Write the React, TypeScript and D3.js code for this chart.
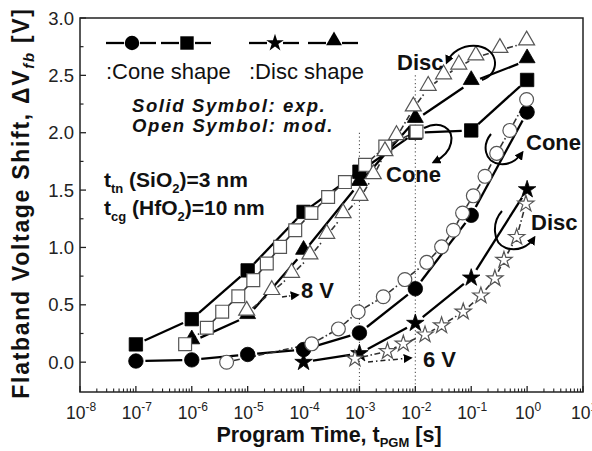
import React from 'react';
import * as d3 from 'd3';

const W = 592, H = 451;
const X_DOMAIN: [number, number] = [1e-8, 1e1];
const Y_DOMAIN: [number, number] = [-0.26, 3.0];
const X_EXPONENTS = [-8, -7, -6, -5, -4, -3, -2, -1, 0, 1];
const Y_TICKS = [0, 0.5, 1, 1.5, 2, 2.5, 3];
const Y_TICK_LABELS = ['0.0', '0.5', '1.0', '1.5', '2.0', '2.5', '3.0'];
const Y_MINOR = [0.25, 0.75, 1.25, 1.75, 2.25, 2.75];

// Experimental (solid symbols)
const CONE_6V_EXP_T = [1e-7, 1e-6, 1e-5, 1e-4, 1e-3, 1e-2, 1e-1, 1];
const CONE_6V_EXP_V = [0.01, 0.02, 0.067, 0.11, 0.255, 0.64, 1.28, 2.18];
const CONE_8V_EXP_T = [1e-7, 1e-6, 1e-5, 1e-4, 1e-3, 1e-2, 1e-1, 1];
const CONE_8V_EXP_V = [0.155, 0.375, 0.8, 1.31, 1.66, 2.0, 2.02, 2.46];
const DISC_6V_EXP_T = [1e-4, 1e-3, 1e-2, 1e-1, 1];
const DISC_6V_EXP_V = [0.0, 0.076, 0.34, 0.735, 1.505];
const DISC_8V_EXP_T = [1e-6, 1e-5, 1e-4, 1e-3, 1e-2, 1e-1, 1];
const DISC_8V_EXP_V = [0.18, 0.4, 0.96, 1.56, 2.11, 2.44, 2.63];

// Model (open symbols)
const CONE_8V_MOD_T = [7.6e-7, 1.86e-6, 3.5e-6, 6.8e-6, 1.26e-5, 2.2e-5, 3.8e-5, 7.1e-5, 1.38e-4, 2.75e-4, 5.5e-4, 1.26e-3, 2.9e-3, 1.05e-2];
const CONE_8V_MOD_V = [0.157, 0.3, 0.44, 0.575, 0.715, 0.86, 1.005, 1.15, 1.3, 1.44, 1.57, 1.72, 1.88, 2.01];
const DISC_8V_MOD_T = [9.6e-6, 2.7e-5, 6.1e-5, 1.3e-4, 2.6e-4, 5.1e-4, 1.02e-3, 1.77e-3, 2.86e-3, 4.6e-3, 9.2e-3, 1.7e-2, 3.2e-2, 6.0e-2, 0.121, 0.326, 0.98];
const DISC_8V_MOD_V = [0.43, 0.61, 0.76, 0.92, 1.1, 1.28, 1.43, 1.62, 1.82, 1.96, 2.21, 2.39, 2.49, 2.575, 2.655, 2.72, 2.785];
const CONE_6V_MOD_T = [4.2e-6, 1.4e-4, 4.2e-4, 9.5e-4, 2.67e-3, 6.5e-3, 1.6e-2, 2.95e-2, 4.8e-2, 7.0e-2, 0.109, 0.176, 0.285, 0.49, 0.98];
const CONE_6V_MOD_V = [0.0, 0.16, 0.29, 0.44, 0.57, 0.72, 0.87, 1.005, 1.15, 1.3, 1.45, 1.62, 1.82, 2.02, 2.29];
const DISC_6V_MOD_T = [8.3e-4, 3.17e-3, 6.1e-3, 1.49e-2, 2.95e-2, 7.2e-2, 0.149, 0.265, 0.385, 0.65, 0.95];
const DISC_6V_MOD_V = [0.03, 0.095, 0.16, 0.24, 0.32, 0.44, 0.58, 0.73, 0.89, 1.09, 1.38];

const DOTTED_T = [1e-3, 1e-2];
const DOTTED_TOP_V = [2.0, 2.5];

const FONT = "'Liberation Sans', Arial, Helvetica, sans-serif";

const x = d3.scaleLog().domain(X_DOMAIN).range([80, 583]);
const y = d3.scaleLinear().domain(Y_DOMAIN).range([392, 18]);

type Shape = 'circle' | 'square' | 'triangle' | 'star';
const symType: Record<Shape, d3.SymbolType> = {
  circle: d3.symbolCircle,
  square: d3.symbolSquare,
  triangle: d3.symbolTriangle,
  star: d3.symbolStar,
};
const solidSize: Record<Shape, number> = { circle: 165, square: 180, triangle: 110, star: 95 };
const openSize: Record<Shape, number> = { circle: 150, square: 165, triangle: 110, star: 82 };
const triOffset = (s: Shape, size: number) => (s === 'triangle' ? -Math.sqrt(size / (Math.sqrt(3) * 3)) / 2 : 0);

function gapped(pts: [number, number][], gap: number) {
  const segs: [number, number, number, number][] = [];
  for (let i = 0; i < pts.length - 1; i++) {
    const [x1, y1] = pts[i];
    const [x2, y2] = pts[i + 1];
    const dx = x2 - x1, dy = y2 - y1;
    const L = Math.hypot(dx, dy);
    if (L <= 2 * gap + 1) continue;
    const ux = dx / L, uy = dy / L;
    segs.push([x1 + ux * gap, y1 + uy * gap, x2 - ux * gap, y2 - uy * gap]);
  }
  return segs;
}

function Lines({ ts, vs, open, gap }: { ts: number[]; vs: number[]; open: boolean; gap: number }) {
  const pts: [number, number][] = ts.map((t, i) => [x(t), y(vs[i])]);
  const segs = gapped(pts, gap);
  return (
    <g>
      {segs.map((s, i) => (
        <line key={i} x1={s[0]} y1={s[1]} x2={s[2]} y2={s[3]}
          stroke={open ? '#333' : '#000'} strokeWidth={open ? 1.6 : 2.3}
          strokeDasharray={open ? '6 2.5 1.5 2.5' : undefined} />
      ))}
    </g>
  );
}

function Markers({ ts, vs, shape, open }: { ts: number[]; vs: number[]; shape: Shape; open: boolean }) {
  const pts: [number, number][] = ts.map((t, i) => [x(t), y(vs[i])]);
  const size = open ? openSize[shape] : solidSize[shape];
  const path = d3.symbol(symType[shape], size)() as string;
  const off = triOffset(shape, size);
  return (
    <g>
      {pts.map((p, i) => (
        <path key={i} d={path} transform={`translate(${p[0]},${p[1] + off})`}
          fill={open ? '#fff' : '#000'} stroke={open ? '#555' : '#000'} strokeWidth={open ? 1.2 : 0.8} />
      ))}
    </g>
  );
}

function LegendItem({ cx, cy, shape }: { cx: number; cy: number; shape: Shape }) {
  const size = solidSize[shape];
  const off = triOffset(shape, size);
  return (
    <g>
      <line x1={cx - 26} y1={cy} x2={cx - 8} y2={cy} stroke="#000" strokeWidth={2.3} />
      <line x1={cx + 8} y1={cy} x2={cx + 24} y2={cy} stroke="#000" strokeWidth={2.3} />
      <path d={d3.symbol(symType[shape], size)() as string} transform={`translate(${cx},${cy + off})`} fill="#000" />
    </g>
  );
}

export default function App() {
  const xMinor: number[] = [];
  for (let e = -8; e < 1; e++) for (let k = 2; k <= 9; k++) xMinor.push(k * Math.pow(10, e));
  const [L, R] = x.range();
  const [B, T] = y.range();
  return (
    <div style={{ position: 'absolute', left: 0, top: 0 }}>
      <svg width={W} height={H} style={{ display: 'block', background: '#fff' }} fontFamily={FONT}>
        <defs>
          <marker id="ah" viewBox="0 0 10 10" refX="7" refY="5" markerWidth="9" markerHeight="9"
            markerUnits="userSpaceOnUse" orient="auto">
            <path d="M0,0 L10,5 L0,10 z" fill="#000" />
          </marker>
        </defs>
        <rect x={0} y={0} width={W} height={H} fill="#fff" />

        {DOTTED_T.map((t, i) => (
          <line key={i} x1={x(t)} x2={x(t)} y1={y(DOTTED_TOP_V[i])} y2={B} stroke="#555" strokeWidth={1.1} strokeDasharray="1.2 2.6" />
        ))}

        <rect x={L} y={T} width={R - L} height={B - T} fill="none" stroke="#222" strokeWidth={1.5} />

        {Y_TICKS.map((v, i) => (
          <g key={i}>
            <line x1={L} x2={L + 6} y1={y(v)} y2={y(v)} stroke="#222" strokeWidth={1.3} />
            <text x={74} y={y(v) + 6.5} textAnchor="end" fontSize={18.5} fill="#222">{Y_TICK_LABELS[i]}</text>
          </g>
        ))}
        {Y_MINOR.map((v, i) => (
          <line key={i} x1={L} x2={L + 3.5} y1={y(v)} y2={y(v)} stroke="#222" strokeWidth={1.2} />
        ))}

        {X_EXPONENTS.map((e) => (
          <g key={e}>
            <line x1={x(Math.pow(10, e))} x2={x(Math.pow(10, e))} y1={B} y2={B - 6} stroke="#222" strokeWidth={1.3} />
            <text x={x(Math.pow(10, e)) + 1} y={419} textAnchor="middle" fontSize={17.5} fill="#222">
              10<tspan dy={-8} fontSize={12}>{String(e)}</tspan>
            </text>
          </g>
        ))}
        {xMinor.map((t, i) => (
          <line key={i} x1={x(t)} x2={x(t)} y1={B} y2={B - 3.5} stroke="#222" strokeWidth={1.1} />
        ))}

        <text x={329} y={442} textAnchor="middle" fontSize={21.5} fontWeight="bold" fill="#111">
          Program Time, t<tspan dy={5} fontSize={13}>PGM</tspan><tspan dy={-5}> [s]</tspan>
        </text>
        <text transform="translate(29,203) rotate(-90)" textAnchor="middle" fontSize={23} fontWeight="bold" fill="#111" letterSpacing={1.7}>
          Flatband Voltage Shift, ΔV<tspan dy={5} fontSize={15} fontStyle="italic">fb</tspan><tspan dy={-5}> [V]</tspan>
        </text>

        <Lines ts={CONE_6V_EXP_T} vs={CONE_6V_EXP_V} open={false} gap={9.5} />
        <Lines ts={CONE_8V_EXP_T} vs={CONE_8V_EXP_V} open={false} gap={9.5} />
        <Lines ts={DISC_6V_EXP_T} vs={DISC_6V_EXP_V} open={false} gap={9.5} />
        <Lines ts={DISC_8V_EXP_T} vs={DISC_8V_EXP_V} open={false} gap={9.5} />
        <Lines ts={CONE_8V_MOD_T} vs={CONE_8V_MOD_V} open={true} gap={7.5} />
        <Lines ts={DISC_8V_MOD_T} vs={DISC_8V_MOD_V} open={true} gap={7.5} />
        <Lines ts={CONE_6V_MOD_T} vs={CONE_6V_MOD_V} open={true} gap={7.5} />
        <Lines ts={DISC_6V_MOD_T} vs={DISC_6V_MOD_V} open={true} gap={7.5} />

        <Markers ts={CONE_6V_EXP_T} vs={CONE_6V_EXP_V} shape="circle" open={false} />
        <Markers ts={CONE_8V_EXP_T} vs={CONE_8V_EXP_V} shape="square" open={false} />
        <Markers ts={DISC_6V_EXP_T} vs={DISC_6V_EXP_V} shape="star" open={false} />
        <Markers ts={DISC_8V_EXP_T} vs={DISC_8V_EXP_V} shape="triangle" open={false} />
        <Markers ts={CONE_8V_MOD_T} vs={CONE_8V_MOD_V} shape="square" open={true} />
        <Markers ts={DISC_8V_MOD_T} vs={DISC_8V_MOD_V} shape="triangle" open={true} />
        <Markers ts={CONE_6V_MOD_T} vs={CONE_6V_MOD_V} shape="circle" open={true} />
        <Markers ts={DISC_6V_MOD_T} vs={DISC_6V_MOD_V} shape="star" open={true} />

        <LegendItem cx={132} cy={43} shape="circle" />
        <LegendItem cx={187} cy={43} shape="square" />
        <LegendItem cx={275} cy={43} shape="star" />
        <LegendItem cx={334} cy={43} shape="triangle" />
        <text x={106} y={79} fontSize={22} fill="#111">:Cone shape</text>
        <text x={249} y={79} fontSize={22} fill="#111">:Disc shape</text>
        <text x={132} y={112} fontSize={18.5} fontWeight="bold" fontStyle="italic" fill="#111" letterSpacing={1.6}>Solid Symbol: exp.</text>
        <text x={132} y={132} fontSize={18.5} fontWeight="bold" fontStyle="italic" fill="#111" letterSpacing={1.6}>Open Symbol: mod.</text>

        <text x={104} y={187} fontSize={21} fontWeight="bold" fill="#111">
          t<tspan dy={6} fontSize={13}>tn</tspan><tspan dy={-6}> (SiO</tspan><tspan dy={6} fontSize={13}>2</tspan><tspan dy={-6}>)=3 nm</tspan>
        </text>
        <text x={104} y={215} fontSize={21} fontWeight="bold" fill="#111">
          t<tspan dy={6} fontSize={13}>cg</tspan><tspan dy={-6}> (HfO</tspan><tspan dy={6} fontSize={13}>2</tspan><tspan dy={-6}>)=10 nm</tspan>
        </text>

        <text x={301} y={298} fontSize={22} fontWeight="bold" fill="#111">8 V</text>
        <text x={423} y={367} fontSize={22} fontWeight="bold" fill="#111">6 V</text>
        <text x={397} y={70} fontSize={22} fontWeight="bold" fill="#111">Disc</text>
        <text x={386} y={182} fontSize={22} fontWeight="bold" fill="#111">Cone</text>
        <text x={526} y={150} fontSize={22} fontWeight="bold" fill="#111">Cone</text>
        <text x={531} y={230} fontSize={22} fontWeight="bold" fill="#111">Disc</text>

        <path d="M282,297 L297,295" stroke="#222" strokeWidth={1.5} strokeDasharray="5 2 1.5 2" fill="none" markerEnd="url(#ah)" />
        <path d="M368,362 L410,358" stroke="#222" strokeWidth={1.5} strokeDasharray="5 3 1.5 3" fill="none" markerEnd="url(#ah)" />
        <path d="M482,80 C500,74 500,50 478,46 C462,44 451,53 447,62" stroke="#000" strokeWidth={2} fill="none" markerEnd="url(#ah)" />
        <path d="M424,128 C440,120 454,128 451,143 C449,153 442,158 434,162" stroke="#000" strokeWidth={2} fill="none" markerEnd="url(#ah)" />
        <path d="M491,134 C482,145 484,162 500,164 C510,165 517,160 522,153" stroke="#000" strokeWidth={2} fill="none" markerEnd="url(#ah)" />
        <path d="M502,211 C492,222 492,243 506,248 C518,252 529,246 534,238" stroke="#000" strokeWidth={2} fill="none" markerEnd="url(#ah)" />
      </svg>
    </div>
  );
}
